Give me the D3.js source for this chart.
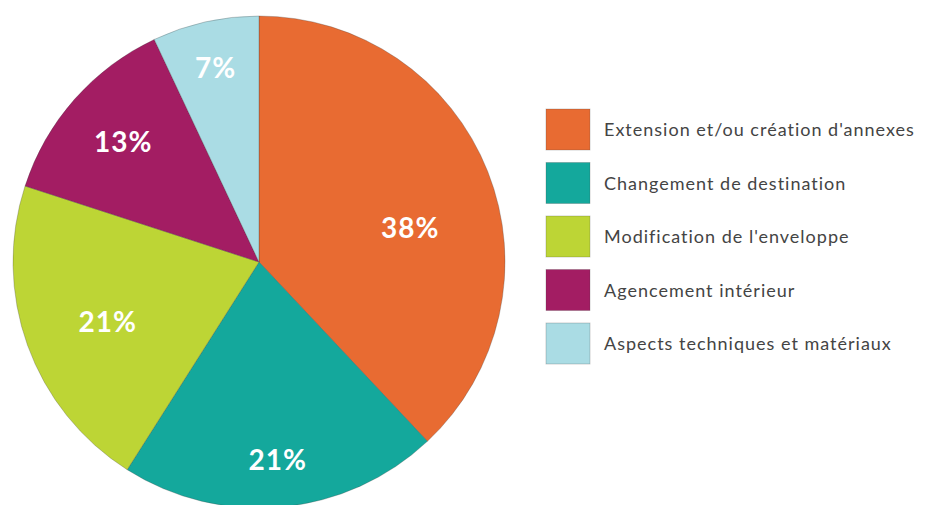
<!DOCTYPE html>
<html>
<head>
<meta charset="utf-8">
<script src="https://cdn.jsdelivr.net/npm/d3@7"></script>
<style>
  body { margin: 0; background: #fff; }
  svg { display: block; }
</style>
</head>
<body>
<div id="chart"></div>
<script>
var categories = [
  "Extension et/ou création d'annexes",
  "Changement de destination",
  "Modification de l'enveloppe",
  "Agencement intérieur",
  "Aspects techniques et matériaux"
];
var values = [38, 21, 21, 13, 7];
var colors = ["#e86b32", "#14a89c", "#bdd535", "#a31d63", "#aadce4"];

// label placement tweaks (radius from centre, angle shift in degrees)
var labelRadius = [155, 199, 163, 181, 199];
var labelShift = [9, 0, -2, 0, 0];

var width = 926, height = 505;
var cx = 259, cy = 262, radius = 246;

var svg = d3.select("#chart").append("svg")
    .attr("width", width)
    .attr("height", height);

var pie = d3.pie().sort(null).value(function (d) { return d; });
var arc = d3.arc().innerRadius(0).outerRadius(radius);
var arcs = pie(values);

var g = svg.append("g").attr("transform", "translate(" + cx + "," + cy + ")");

g.selectAll(".slice")
  .data(arcs)
  .enter().append("path")
    .attr("class", "slice")
    .attr("d", arc)
    .attr("fill", function (d, i) { return colors[i]; })
    .attr("stroke", "rgba(60,60,60,0.35)")
    .attr("stroke-width", 0.8);

g.selectAll(".label")
  .data(arcs)
  .enter().append("text")
    .attr("class", "label")
    .attr("x", function (d, i) {
      var a = (d.startAngle + d.endAngle) / 2 + labelShift[i] * Math.PI / 180;
      return Math.sin(a) * labelRadius[i];
    })
    .attr("y", function (d, i) {
      var a = (d.startAngle + d.endAngle) / 2 + labelShift[i] * Math.PI / 180;
      return -Math.cos(a) * labelRadius[i];
    })
    .attr("dy", "0.35em")
    .attr("text-anchor", "middle")
    .attr("fill", "#fff")
    .attr("font-family", "Lato, sans-serif")
    .attr("font-weight", "bold")
    .attr("font-size", 28)
    .attr("letter-spacing", 1)
    .text(function (d) { return d.data + "%"; });

var legend = svg.append("g").attr("transform", "translate(546,109)");

var item = legend.selectAll(".item")
  .data(categories)
  .enter().append("g")
    .attr("class", "item")
    .attr("transform", function (d, i) { return "translate(0," + (i * 53.5) + ")"; });

item.append("rect")
    .attr("width", 44)
    .attr("height", 41)
    .attr("fill", function (d, i) { return colors[i]; })
    .attr("stroke", "rgba(60,60,60,0.3)")
    .attr("stroke-width", 0.8);

item.append("text")
    .attr("x", 58)
    .attr("y", 21)
    .attr("dy", "0.35em")
    .attr("fill", "#444")
    .attr("font-family", "Lato, sans-serif")
    .attr("font-size", 18)
    .attr("letter-spacing", 1)
    .text(function (d) { return d; });
</script>
</body>
</html>
